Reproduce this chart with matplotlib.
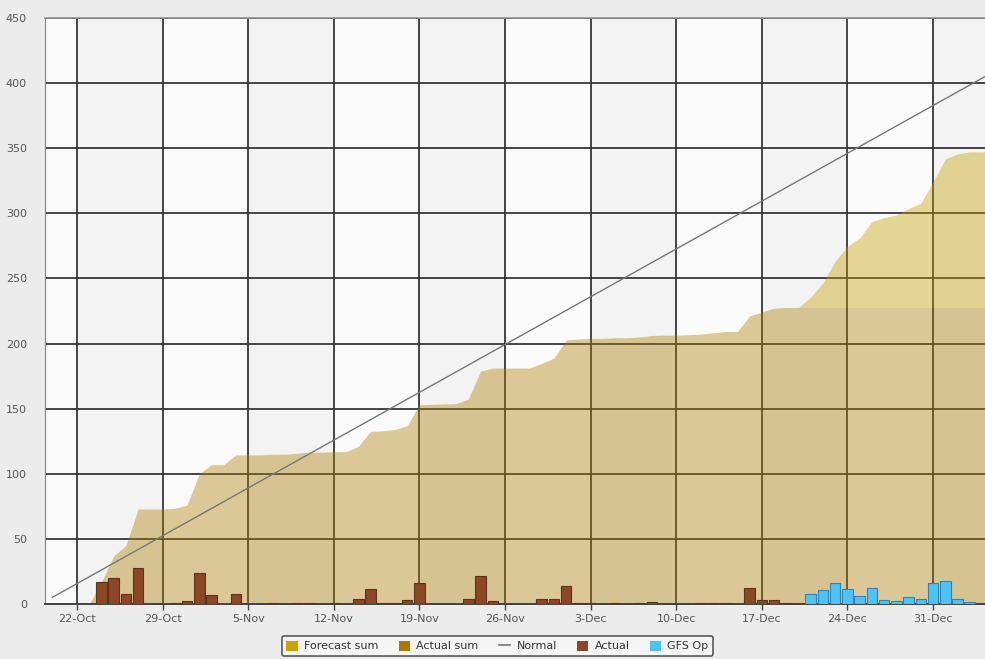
import numpy as np
import pandas as pd
import matplotlib
matplotlib.use("Agg")
import matplotlib.pyplot as plt
import matplotlib.dates as mdates
from matplotlib.patches import Patch
from matplotlib.lines import Line2D

# daily observed rain, 23-Oct .. 19-Dec
actual_start = "2018-10-23"
actual_oct = [0, 17, 20, 8, 28, 0, 0, 0.5, 2.5]
actual_nov = [24, 7, 0, 7.5, 0, 0, 0.5, 0, 0.8, 0.8,
              0, 0.4, 0, 4, 11.5, 0.5, 1, 3, 16, 0.3,
              0.3, 0.3, 3.5, 21.5, 2.3, 0, 0, 0, 3.6, 4]
actual_dec = [14, 0.6, 0.6, 0, 0.5, 0, 0.5, 1.2, 0.3, 0,
              0.3, 0.4, 1, 1, 0, 12, 3, 3, 0.5]

# GFS operational forecast, 21-Dec .. 3-Jan
gfs_start = "2018-12-21"
gfs_vals = [8, 11, 16.5, 11.5, 6.5, 12.5, 3, 2, 5, 4, 16.5, 17.5, 4, 1.5]

# climatological normal (cumulative), straight line
normal_dates = ["2018-10-20", "2019-01-05"]
normal_vals = [5.2, 409.0]

end_date = "2019-01-05"
forecast_from = "2018-12-19"

# series on a common daily index
days = pd.date_range(actual_start, end_date, freq="D")
actual = pd.Series(0.0, index=days)
actual_all = actual_oct + actual_nov + actual_dec
actual.iloc[:len(actual_all)] = actual_all
gfs = pd.Series(0.0, index=days)
gfs_days = pd.date_range(gfs_start, periods=len(gfs_vals), freq="D")
gfs[gfs_days] = gfs_vals

actual_sum = actual.cumsum()
fc = days >= pd.Timestamp(forecast_from)
forecast_sum = actual_sum + gfs.cumsum()

fig = plt.figure(figsize=(9.85, 6.59), dpi=100, facecolor="#ECECEC")
ax = fig.add_axes([45 / 985, 55 / 659, 940 / 985, 586 / 659])
ax.set_facecolor("#FAFAFA")

x0 = pd.Timestamp("2018-10-22") - pd.Timedelta(days=2.62)
x1 = pd.Timestamp("2018-12-31") + pd.Timedelta(days=4.25)
week_ticks = pd.date_range("2018-10-22", "2018-12-31", freq="7D")

# alternating weekly bands
for i, w in enumerate(week_ticks):
    if i % 2 == 0:
        ax.axvspan(w, w + pd.Timedelta(days=7), color="#F3F3F3", lw=0, zorder=0.2)

ax.set_axisbelow(True)
ax.grid(True, color="#363636", lw=1.3)

# cumulative areas
ax.fill_between(days, 0, actual_sum, color="#AF7D00", alpha=0.4, lw=0, zorder=1)
ax.fill_between(days[fc], actual_sum[fc], forecast_sum[fc], color="#C8A000",
                alpha=0.4, lw=0, zorder=1)

# normal
ax.plot(pd.to_datetime(normal_dates), normal_vals, color="#777777", lw=1.0, zorder=4)

# daily bars
obs = actual[actual > 0]
ax.bar(obs.index, obs.values, width=0.86, color="#8B4726", edgecolor="#5A341C",
       lw=0.8, zorder=3)
ax.bar(gfs_days, gfs_vals, width=0.86, color="#4FC3F7", edgecolor="#2C86B0",
       lw=0.8, zorder=3)

ax.set_xlim(x0, x1)
ax.set_ylim(0, 450)
ax.set_yticks(np.arange(0, 451, 50))
ax.set_xticks(week_ticks)
ax.xaxis.set_major_formatter(plt.FuncFormatter(
    lambda v, p: f"{mdates.num2date(v).day}-{mdates.num2date(v).strftime('%b')}"))

ax.tick_params(axis="y", length=0, pad=13, labelsize=8, labelcolor="#555555")
ax.tick_params(axis="x", length=4.5, width=1, color="#444444", pad=3,
               labelsize=8, labelcolor="#555555")

ax.spines["right"].set_visible(False)
ax.spines["top"].set_color("#909090")
ax.spines["top"].set_linewidth(1.2)
ax.spines["left"].set_color("#888888")
ax.spines["bottom"].set_color("#444444")
ax.spines["bottom"].set_linewidth(1.4)

handles = [
    Patch(facecolor="#C9A200", edgecolor="none", label="Forecast sum"),
    Patch(facecolor="#AA7A00", edgecolor="none", label="Actual sum"),
    Line2D([0], [0], color="#777777", lw=1.2, label="Normal"),
    Patch(facecolor="#8B4726", edgecolor="none", label="Actual"),
    Patch(facecolor="#4FC3F7", edgecolor="none", label="GFS Op"),
]
leg = fig.legend(handles=handles, loc="center", bbox_to_anchor=(497.5 / 985, 1 - 646 / 659),
                 ncol=5, fontsize=8, frameon=True, handlelength=1.0, handleheight=1.0,
                 handletextpad=0.6, columnspacing=1.8, borderpad=0.4, fancybox=True,
                 labelcolor="#333333")
leg.get_frame().set_edgecolor("#333333")
leg.get_frame().set_linewidth(1.2)
leg.get_frame().set_facecolor("#F8F8F8")

fig.savefig("out.png", dpi=100, facecolor=fig.get_facecolor())
